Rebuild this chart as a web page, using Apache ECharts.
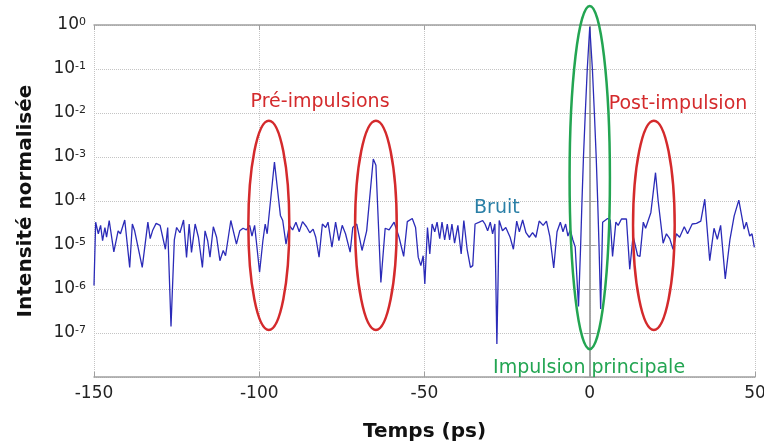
<!DOCTYPE html>
<html lang="fr">
<head>
<meta charset="UTF-8">
<title>Intensité normalisée</title>
<script src="https://cdn.jsdelivr.net/npm/echarts@6/dist/echarts.min.js"></script>
<style>
  html, body { margin: 0; padding: 0; background: #fff; }
  #chart { width: 764px; height: 448px; }
</style>
</head>
<body>
<div id="chart"></div>
<script>
// temps (ps) et intensité normalisée
var times = [
  -150, -149.5, -148.7, -148, -147.4, -146.7, -146.2, -145.4, -144, -142.7,
  -142, -140.7, -139.2, -138.4, -137.7, -137.2, -135.4, -133.7, -133, -132.2,
  -131.2, -130, -128.4, -127.7, -126.7, -125.7, -125, -124, -122.9, -122,
  -121.2, -120.5, -119.4, -118.4, -117.2, -116.4, -115.6, -114.9, -113.9, -112.9,
  -111.9, -110.9, -110.2, -108.6, -106.9, -105.9, -104.9, -103.9, -102.9, -102.2,
  -101.4, -100.9, -99.9, -98.9, -98.2, -97.6, -95.4, -93.6, -92.9, -91.9,
  -90.9, -89.9, -88.9, -87.9, -86.9, -85.7, -84.7, -83.7, -82.9, -81.9,
  -80.9, -79.9, -79.2, -78, -76.9, -75.9, -74.9, -73.9, -72.5, -71.7,
  -70.5, -68.9, -67.5, -65.5, -64.7, -63.2, -61.9, -60.7, -59.2, -57.7,
  -56.3, -55.2, -53.7, -52.7, -51.9, -51.1, -50.4, -49.9, -49.1, -48.4,
  -47.7, -46.9, -46.2, -45.4, -44.7, -43.9, -43.1, -42.4, -41.7, -40.9,
  -39.9, -38.9, -38.1, -37.1, -36.1, -35.4, -34.7, -33.4, -32.4, -31.7,
  -30.9, -30.1, -29.4, -28.7, -28.1, -27.4, -26.4, -25.4, -24.1, -23.1,
  -22.1, -21.3, -20.3, -19.3, -18.3, -17.3, -16.3, -15.3, -14.1, -13.1,
  -12.1, -10.9, -9.9, -8.9, -8.1, -7.3, -6.6, -5.9, -5.1, -4.4,
  -3.4, -2.75, -2.35, -1.9, -1.35, -0.75, 0, 0.8, 1.4, 1.95,
  2.4, 2.8, 3.3, 3.9, 5.4, 6.2, 6.9, 7.9, 8.6, 9.6,
  11.1, 12.1, 13.1, 14.5, 15.2, 16.2, 16.9, 18.5, 19.9, 20.7,
  22.2, 23.2, 24.2, 25.2, 26.2, 27.2, 28.6, 29.6, 31, 32.3,
  33.6, 34.8, 36.3, 37.6, 38.6, 39.6, 41, 42.4, 43.7, 45.1,
  46.7, 47.4, 48.4, 49.1, 49.8
];
var intensity = [
  1.2e-6, 3.3e-5, 1.8e-5, 2.8e-5, 1.25e-5, 2.5e-5, 1.5e-5, 3.6e-5, 7e-6, 2.1e-5,
  1.8e-5, 3.7e-5, 3.1e-6, 3e-5, 2.1e-5, 2.3e-5, 3.1e-6, 3.3e-5, 1.4e-5, 2.2e-5,
  3.1e-5, 2.8e-5, 8e-6, 2.5e-5, 1.4e-7, 1.3e-5, 2.5e-5, 1.9e-5, 3.7e-5, 5.2e-6,
  3e-5, 6.8e-6, 3e-5, 1.5e-5, 3.1e-6, 2.1e-5, 1.25e-5, 5.3e-6, 2.6e-5, 1.5e-5,
  4.4e-6, 7.5e-6, 5.7e-6, 3.6e-5, 1.05e-5, 2.1e-5, 2.4e-5, 2.2e-5, 2.8e-5, 1.6e-5,
  2.8e-5, 1.25e-5, 2.4e-6, 1.25e-5, 3e-5, 1.8e-5, 7.7e-4, 4.7e-5, 3.6e-5, 1.05e-5,
  2.8e-5, 2.2e-5, 3.3e-5, 2e-5, 3.4e-5, 2.6e-5, 1.9e-5, 2.3e-5, 1.5e-5, 5.3e-6,
  3e-5, 2.5e-5, 3.3e-5, 8.9e-6, 3.3e-5, 1.25e-5, 2.8e-5, 1.8e-5, 6.9e-6, 2.5e-5,
  3e-5, 7.5e-6, 2.1e-5, 9e-4, 6.5e-4, 1.4e-6, 2.4e-5, 2.2e-5, 3.3e-5, 1.5e-5,
  5.5e-6, 3.4e-5, 4e-5, 2.5e-5, 5.3e-6, 3.4e-6, 5.7e-6, 1.3e-6, 2.5e-5, 6.3e-6,
  3e-5, 2e-5, 3.3e-5, 1.4e-5, 3.3e-5, 1.3e-5, 3e-5, 1.3e-5, 3e-5, 1.1e-5,
  2.8e-5, 6.3e-6, 3.6e-5, 8e-6, 3.1e-6, 3.4e-6, 3e-5, 3.3e-5, 3.6e-5, 3e-5,
  2.1e-5, 3.3e-5, 1.8e-5, 3e-5, 5.6e-8, 3.6e-5, 2.1e-5, 2.5e-5, 1.5e-5, 8e-6,
  3.5e-5, 2e-5, 3.7e-5, 1.9e-5, 1.5e-5, 1.9e-5, 1.5e-5, 3.5e-5, 2.8e-5, 3.5e-5,
  1.6e-5, 3e-6, 2e-5, 3.3e-5, 2e-5, 3e-5, 1.6e-5, 2.2e-5, 1.3e-5, 9e-6,
  4e-7, 1e-5, 1e-4, 1e-3, 1e-2, 1e-1, 0.9, 1e-1, 1e-2, 1e-3,
  1e-4, 1e-5, 3.5e-7, 3.3e-5, 4e-5, 3.7e-5, 5.5e-6, 3.3e-5, 2.8e-5, 3.9e-5,
  3.9e-5, 2.8e-6, 1.6e-5, 5.7e-6, 5.5e-6, 3.3e-5, 2.4e-5, 5.5e-5, 4.4e-4, 1e-4,
  1.1e-5, 1.8e-5, 1.4e-5, 8e-6, 1.8e-5, 1.5e-5, 2.6e-5, 1.8e-5, 3e-5, 3.1e-5,
  3.5e-5, 1.1e-4, 4.4e-6, 2.4e-5, 1.35e-5, 2.8e-5, 1.7e-6, 1.3e-5, 4.6e-5, 1.05e-4,
  2.3e-5, 3.3e-5, 1.6e-5, 1.8e-5, 8.8e-6
];

var xTicks = [-150, -100, -50, 0, 50];

// annotations (centre en ps, demi-largeur en ps, haut et bas en intensité)
var ellipses = [
  { x: -97.1, hw: 6.2, top: 6.7e-3, bottom: 1.17e-7, color: '#d42a2c' },
  { x: -64.7, hw: 6.3, top: 6.7e-3, bottom: 1.17e-7, color: '#d42a2c' },
  { x: 19.4, hw: 6.3, top: 6.7e-3, bottom: 1.17e-7, color: '#d42a2c' },
  { x: 0, hw: 6.1, top: 2.7, bottom: 4.3e-8, color: '#23a552' }
];
var notes = [
  { text: 'Pré-impulsions', x: -81.6, y: 1.78e-2, color: '#d42a2c' },
  { text: 'Post-impulsion', x: 26.7, y: 1.6e-2, color: '#d42a2c' },
  { text: 'Bruit', x: -28.1, y: 6.9e-5, color: '#2a7fa6' },
  { text: 'Impulsion principale', x: -0.2, y: 1.6e-8, color: '#23a552' }
];

var FONT = 'DejaVu Sans';
var chart = echarts.init(document.getElementById('chart'));

var gridLine = { show: true, lineStyle: { color: '#c4c4c4', type: 'dotted', width: 1 } };
var boxLine = { show: true, lineStyle: { color: '#a0a0a0', width: 1.5 } };

var option = {
  animation: false,
  backgroundColor: '#fff',
  grid: { left: 94, top: 25, right: 9, bottom: 71, show: false, outerBoundsMode: 'none' },
  xAxis: [{
    type: 'value', min: -150, max: 50, interval: 50,
    name: 'Temps (ps)', nameLocation: 'middle', nameGap: 45,
    nameTextStyle: { fontFamily: FONT, fontSize: 20, fontWeight: 'bold', color: '#111' },
    axisLine: boxLine,
    axisTick: { show: true, inside: true, length: 5, lineStyle: { color: '#a0a0a0' } },
    axisLabel: { fontFamily: FONT, fontSize: 17, color: '#222', margin: 8,
      formatter: function (v) { return xTicks.indexOf(v) >= 0 ? String(v) : ''; } },
    splitLine: gridLine
  }, {
    type: 'value', min: -150, max: 50, interval: 50, position: 'top',
    axisLine: boxLine,
    axisTick: { show: true, inside: true, length: 5, lineStyle: { color: '#a0a0a0' } },
    axisLabel: { show: false }, splitLine: { show: false }
  }],
  yAxis: [{
    type: 'log', logBase: 10, min: 1e-8, max: 1, interval: 1,
    name: 'Intensité normalisée', nameLocation: 'middle', nameGap: 58,
    nameTextStyle: { fontFamily: FONT, fontSize: 20, fontWeight: 'bold', color: '#111' },
    axisLine: boxLine,
    axisTick: { show: true, inside: true, length: 6, lineStyle: { color: '#a0a0a0' } },
    axisLabel: {
      margin: 8,
      formatter: function (v) {
        var e = Math.round(Math.log10(v));
        if (e <= -8) return '';
        return '{b|10}{s|' + e + '}';
      },
      rich: {
        b: { fontFamily: FONT, fontSize: 17, color: '#222' },
        s: { fontFamily: FONT, fontSize: 11, color: '#222', verticalAlign: 'top' }
      }
    },
    splitLine: gridLine
  }, {
    type: 'log', logBase: 10, min: 1e-8, max: 1, interval: 1, position: 'right',
    axisLine: boxLine,
    axisTick: { show: true, inside: true, length: 6, lineStyle: { color: '#a0a0a0' } },
    axisLabel: { show: false }, splitLine: { show: false }
  }],
  series: [{
    type: 'line',
    data: times.map(function (t, i) { return [t, intensity[i]]; }),
    showSymbol: false,
    lineStyle: { color: '#2b2bb8', width: 1.3 },
    z: 3
  }]
};
chart.setOption(option);

// ellipses et textes placés en coordonnées de données
var gfx = [];
ellipses.forEach(function (e) {
  var c = chart.convertToPixel({ gridIndex: 0 }, [e.x, e.top]);
  var b = chart.convertToPixel({ gridIndex: 0 }, [e.x + e.hw, e.bottom]);
  gfx.push({
    type: 'ellipse',
    shape: { cx: c[0], cy: (c[1] + b[1]) / 2, rx: b[0] - c[0], ry: (b[1] - c[1]) / 2 },
    style: { fill: 'none', stroke: e.color, lineWidth: 2.5 },
    z: 10
  });
});
notes.forEach(function (n) {
  var p = chart.convertToPixel({ gridIndex: 0 }, [n.x, n.y]);
  gfx.push({
    type: 'text', x: p[0], y: p[1], z: 11,
    style: { text: n.text, fill: n.color, font: '19px "' + FONT + '"', align: 'center', verticalAlign: 'middle' }
  });
});
chart.setOption({ graphic: gfx });
</script>
</body>
</html>
